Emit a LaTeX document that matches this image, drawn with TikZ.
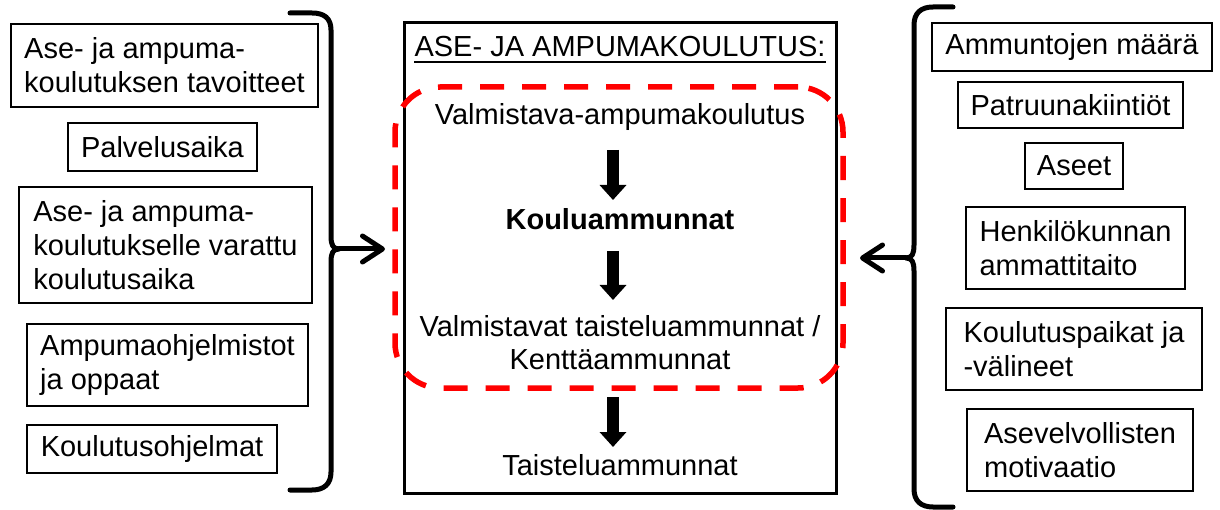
\documentclass[tikz,border=0pt]{standalone}
\usepackage{fontspec}
\setmainfont{Liberation Sans}
\usetikzlibrary{arrows.meta}
\begin{document}
\begin{tikzpicture}[x=1pt,y=-1pt,
  fnt/.style={font=\fontsize{29}{34}\selectfont},
  box/.style={draw, line width=1.8pt, inner sep=0pt, fnt, align=left},
  txt/.style={inner sep=0pt, fnt, align=center},
  brace/.style={line width=5pt, line cap=round, line join=round},
  inarrow/.style={line width=5pt, line cap=round, -{Straight Barb[length=20pt,width=26pt,round]}},
  blockarrow/.style={line width=12pt, -{Triangle[length=15pt,width=26pt]}},
  focus/.style={draw=red, line width=5.5pt, dash pattern=on 24pt off 18pt, rounded corners=45pt, minimum width=448pt, minimum height=301pt}
]
\useasboundingbox (0,0) rectangle (1220,510);

% left boxes
\node[box, minimum width=307pt, minimum height=83pt] (l1) at (164.5,65.5) {Ase- ja ampuma-\\koulutuksen tavoitteet};
\node[box, minimum width=189pt, minimum height=48pt] (l2) at (162.5,147) {Palvelusaika};
\node[box, minimum width=293pt, minimum height=116pt] (l3) at (165.5,245) {Ase- ja ampuma-\\koulutukselle varattu\\koulutusaika};
\node[box, minimum width=281pt, minimum height=82pt] (l4) at (167.5,365) {Ampumaohjelmistot\\ja oppaat};
\node[box, minimum width=250pt, minimum height=48pt] (l5) at (152,449) {Koulutusohjelmat};

% right boxes
\node[box, minimum width=280pt, minimum height=48pt] (r1) at (1072,47) {Ammuntojen määrä};
\node[box, minimum width=225pt, minimum height=46pt] (r2) at (1070.5,105) {Patruunakiintiöt};
\node[box, minimum width=98pt, minimum height=46pt] (r3) at (1074,166) {Aseet};
\node[box, minimum width=219pt, minimum height=82pt] (r4) at (1075.5,248) {Henkilökunnan\\ammattitaito};
\node[box, minimum width=256pt, minimum height=82pt] (r5) at (1074,349) {Koulutuspaikat ja\\-välineet};
\node[box, minimum width=226pt, minimum height=82pt] (r6) at (1080,450) {Asevelvollisten\\motivaatio};

% center box
\node[draw, line width=3pt, minimum width=432pt, minimum height=470pt] (main) at (620,258) {};
\node[focus] (foc) at (619,237.5) {};

\node[txt, anchor=base] (title) at (620,57) {ASE- JA AMPUMAKOULUTUS:};
\draw[line width=2pt] ([yshift=-5pt]title.base west) -- ([yshift=-5pt]title.base east);
\node[txt, anchor=base] (v1) at (620,125) {Valmistava-ampumakoulutus};
\node[txt, anchor=base, font=\fontsize{29}{34}\selectfont\bfseries] (k) at (620,230) {Kouluammunnat};
\node[txt, anchor=base] (v2) at (620,337) {Valmistavat taisteluammunnat /};
\node[txt, anchor=base] (v3) at (620,370) {Kenttäammunnat};
\node[txt, anchor=base] (t) at (620,475) {Taisteluammunnat};

% block arrows
\coordinate (a1s) at (613,150); \coordinate (a1e) at (613,200);
\coordinate (a2s) at (613,251); \coordinate (a2e) at (613,300);
\coordinate (a3s) at (613,397); \coordinate (a3e) at (613,447);
\draw[blockarrow] (a1s) -- (a1e);
\draw[blockarrow] (a2s) -- (a2e);
\draw[blockarrow] (a3s) -- (a3e);

% left brace
\coordinate (lcusp) at (339,249);
\coordinate (ltip) at (385,249);
\draw[brace] (290,13) -- (312,13) .. controls (324,13) and (331,18) .. (331,30) -- (331,236)
  .. controls (331,245) and (333,249) .. (lcusp)
  .. controls (333,249) and (331,253) .. (331,262) -- (331,472)
  .. controls (331,484) and (324,490) .. (312,490) -- (290,490);
\draw[inarrow] (lcusp) -- (ltip);

% right brace
\coordinate (rcusp) at (906,258);
\coordinate (rtip) at (860,258);
\draw[brace] (953,7) -- (933,7) .. controls (921,7) and (914,13) .. (914,25) -- (914,245)
  .. controls (914,254) and (912,258) .. (rcusp)
  .. controls (912,258) and (914,262) .. (914,271) -- (914,489)
  .. controls (914,501) and (921,507) .. (933,507) -- (953,507);
\draw[inarrow] (rcusp) -- (rtip);
\end{tikzpicture}
\end{document}
